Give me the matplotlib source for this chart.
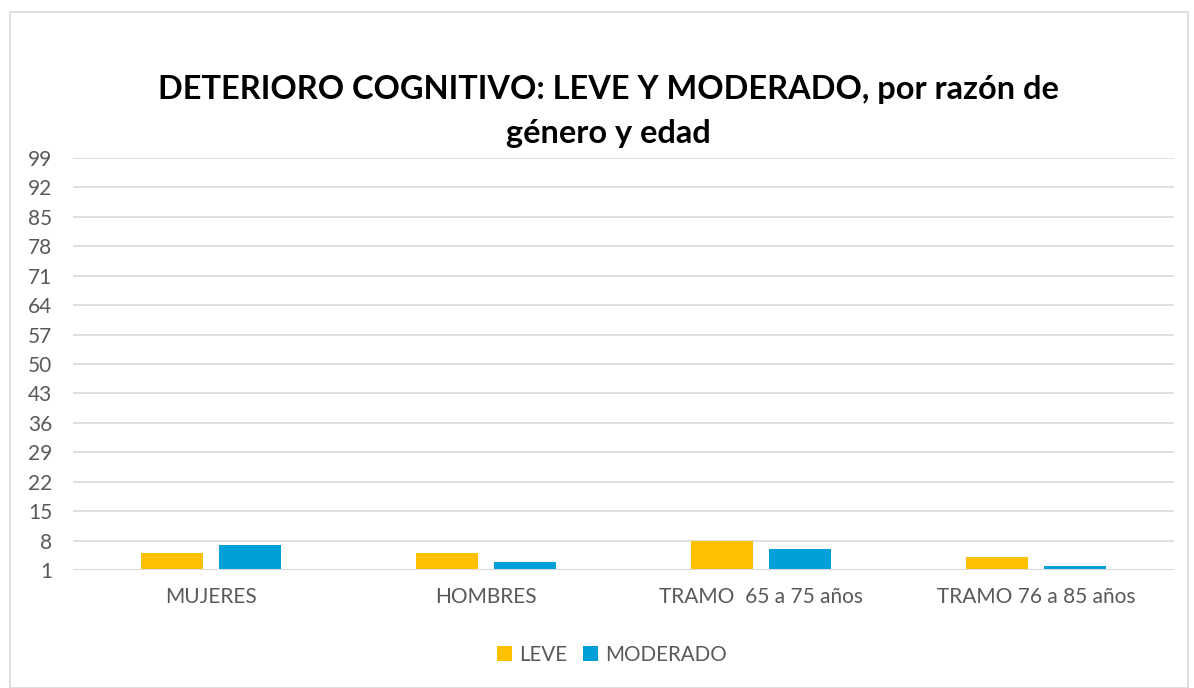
import matplotlib
matplotlib.use("Agg")
import matplotlib.pyplot as plt
import numpy as np
from matplotlib.patches import Rectangle

categories = ["MUJERES", "HOMBRES", "TRAMO  65 a 75 años", "TRAMO 76 a 85 años"]
leve = [5, 5, 8, 4]
moderado = [7, 3, 6, 2]
yticks = list(range(1, 100, 7))

plt.rcParams['font.family'] = ['Lato', 'DejaVu Sans']

fig = plt.figure(figsize=(11.94, 6.88), dpi=100)
ax = fig.add_axes([73/1194, 1 - 570/688, (1174-73)/1194, (570-158)/688])

x = np.arange(len(categories))
w = 0.225
off = 0.142
ax.bar(x - off, leve, w, color="#FFC000", label="LEVE", zorder=3)
ax.bar(x + off, moderado, w, color="#009FD9", label="MODERADO", zorder=3)

ax.set_xlim(-0.5, len(categories) - 0.5)
ax.set_ylim(1, 99)
ax.set_yticks(yticks)
ax.set_yticklabels([str(t) for t in yticks], fontsize=15, color="#595959")
ax.set_xticks(x)
ax.set_xticklabels(categories, fontsize=15, color="#595959")
ax.tick_params(axis='both', length=0)
ax.tick_params(axis='x', pad=12)
ax.tick_params(axis='y', pad=15)
ax.yaxis.grid(True, color="#D9D9D9", linewidth=1.2, zorder=0)
for s in ax.spines.values():
    s.set_visible(False)
ax.axhline(1, color="#D9D9D9", linewidth=1.5, zorder=4)

fig.text(608/1194, 1 - 90/688, "DETERIORO COGNITIVO: LEVE Y MODERADO, por razón de",
         ha='center', va='center', fontsize=23.4, fontweight='bold', color="black")
fig.text(608/1194, 1 - 134/688, "género y edad",
         ha='center', va='center', fontsize=23.4, fontweight='bold', color="black")

leg = fig.legend(loc='center', bbox_to_anchor=(612/1194, 1 - 655/688), ncol=2, frameon=False,
                 fontsize=14.8, handlelength=0.75, handleheight=0.75, handletextpad=0.35,
                 columnspacing=0.75)
for t in leg.get_texts():
    t.set_color("#595959")

fig.patches.append(Rectangle((10/1194, 0), (1188-10)/1194, 1 - 12/688,
                             transform=fig.transFigure, fill=False,
                             edgecolor="#D9D9D9", linewidth=1.2))

fig.savefig("out.png", dpi=100)
